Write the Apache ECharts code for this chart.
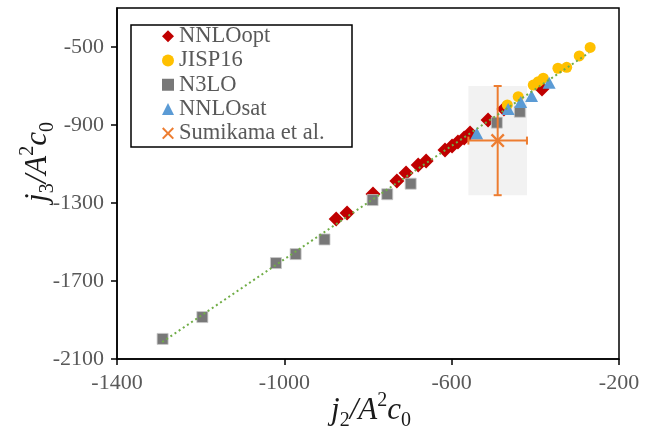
<!DOCTYPE html>
<html><head><meta charset="utf-8">
<script src="https://cdn.jsdelivr.net/npm/echarts@6/dist/echarts.min.js"></script>
<style>html,body{margin:0;padding:0;background:#fff}#c{width:654px;height:429px}</style>
</head><body><div id="c"></div>
<script>
// ---- data ----
const nnloOptX = [-876, -850, -788, -731, -709, -680, -661, -616, -599, -585, -570, -556, -513, -475, -384];
const nnloOptY = [-1382, -1351, -1254, -1187, -1146, -1105, -1085, -1028, -1008, -987, -967, -941, -874, -818, -715];
const jispX = [-467, -441, -405, -393, -381, -346, -325, -295, -269];
const jispY = [-797, -755, -695, -678, -660, -609, -604, -546, -502];
const n3loX = [-1291, -1196, -1020, -973, -904, -789, -754, -698, -492, -437];
const n3loY = [-1997, -1885, -1608, -1562, -1487, -1285, -1255, -1201, -888, -832];
const satX = [-540, -465, -435, -409, -367];
const satY = [-943, -818, -782, -751, -683];
const sumikamaX = [-490];
const sumikamaY = [-980];
const sumikamaXErr = [70];
const sumikamaYErr = [280];
const trendX = [-1292, -272];
const trendY = [-2013, -530];
const xTicks = [-1400, -1000, -600, -200];
const yTicks = [-2100, -1700, -1300, -900, -500];
const seriesNames = ['NNLOopt', 'JISP16', 'N3LO', 'NNLOsat', 'Sumikama et al.'];

const zip = (a, b) => a.map((v, i) => [v, b[i]]);
const errData = sumikamaX.map((v, i) => [v, sumikamaY[i], sumikamaXErr[i], sumikamaYErr[i]]);
const xPath = 'path://M0,1.2L1.2,0L5,3.8L8.8,0L10,1.2L6.2,5L10,8.8L8.8,10L5,6.2L1.2,10L0,8.8L3.8,5Z';
const FONT = 'Liberation Serif';
const orange = '#ED7D31';
const TC = '#1a1a1a';

const chart = echarts.init(document.getElementById('c'));
const rich = {
  i: {fontFamily: FONT, fontStyle: 'italic', fontSize: 31, lineHeight: 40, fill: TC, color: TC},
  sub: {fontFamily: FONT, fontSize: 20, lineHeight: 20, verticalAlign: 'bottom', fill: TC, color: TC},
  sup: {fontFamily: FONT, fontSize: 20, lineHeight: 20, verticalAlign: 'top', fill: TC, color: TC}
};
const fmt = v => String(v);
chart.setOption({
  animation: false,
  grid: {left: 117, right: 35, top: 8, bottom: 70, show: true, borderColor: '#000', borderWidth: 1.5, backgroundColor: 'transparent'},
  xAxis: {
    type: 'value', min: -1400, max: -200, interval: 400,
    axisLine: {show: true, onZero: false, lineStyle: {color: '#000', width: 1.5}},
    axisTick: {show: true, inside: false, length: 6, lineStyle: {color: '#000', width: 1.5}, customValues: xTicks},
    axisLabel: {fontFamily: FONT, fontSize: 22, color: '#595959', margin: 13, customValues: xTicks, formatter: fmt},
    splitLine: {show: false}
  },
  yAxis: {
    type: 'value', min: -2100, max: -300, interval: 400,
    axisLine: {show: true, onZero: false, lineStyle: {color: '#000', width: 1.5}},
    axisTick: {show: true, inside: false, length: 6, lineStyle: {color: '#000', width: 1.5}, customValues: yTicks},
    axisLabel: {fontFamily: FONT, fontSize: 22, color: '#595959', margin: 13, customValues: yTicks, formatter: fmt},
    splitLine: {show: false}
  },
  legend: {
    orient: 'vertical', left: 162, top: 24, padding: 0, itemGap: 0, itemWidth: 12, itemHeight: 12,
    textStyle: {fontFamily: FONT, fontSize: 22.5, color: '#595959', lineHeight: 24.3},
    data: [
      {name: seriesNames[0], icon: 'diamond'},
      {name: seriesNames[1], icon: 'circle'},
      {name: seriesNames[2], icon: 'rect', itemStyle: {borderWidth: 0}},
      {name: seriesNames[3], icon: 'triangle'},
      {name: seriesNames[4], icon: xPath}
    ]
  },
  graphic: [
    {type: 'rect', shape: {x: 131, y: 25, width: 221, height: 122}, style: {fill: 'none', stroke: '#000', lineWidth: 1.5}, z: 100},
    {type: 'text', x: 38, y: 162, rotation: Math.PI / 2,
      style: {text: '{i|j}{sub|3}{i|/A}{sup|2}{i|c}{sub|0}', rich: rich, align: 'center', verticalAlign: 'middle'}},
    {type: 'text', x: 371, y: 411,
      style: {text: '{i|j}{sub|2}{i|/A}{sup|2}{i|c}{sub|0}', rich: rich, align: 'center', verticalAlign: 'middle'}}
  ],
  series: [
    {type: 'custom', name: 'shade', z: 1, silent: true, data: errData,
      renderItem: function (params, api) {
        const x = api.value(0), y = api.value(1), ex = api.value(2), ey = api.value(3);
        const tl = api.coord([x - ex, y + ey]), br = api.coord([x + ex, y - ey]);
        return {type: 'rect', shape: {x: tl[0], y: tl[1], width: br[0] - tl[0], height: br[1] - tl[1]}, style: {fill: '#F2F2F2'}};
      }},
    {type: 'scatter', name: seriesNames[0], z: 2, symbol: 'diamond', symbolSize: 15, itemStyle: {color: '#C00000', opacity: 1}, data: zip(nnloOptX, nnloOptY)},
    {type: 'scatter', name: seriesNames[1], z: 2, symbol: 'circle', symbolSize: 11, itemStyle: {color: '#FFC000', opacity: 1}, data: zip(jispX, jispY)},
    {type: 'scatter', name: seriesNames[2], z: 2, symbol: 'rect', symbolSize: 11, itemStyle: {color: '#787878', opacity: 1, borderColor: '#C8C8C8', borderWidth: 0.8}, data: zip(n3loX, n3loY)},
    {type: 'scatter', name: seriesNames[3], z: 2, symbol: 'triangle', symbolSize: [13, 12], itemStyle: {color: '#5B9BD5', opacity: 1}, data: zip(satX, satY)},
    {type: 'custom', name: 'errbars', z: 3, silent: true, data: errData,
      renderItem: function (params, api) {
        const x = api.value(0), y = api.value(1), ex = api.value(2), ey = api.value(3);
        const t = api.coord([x, y + ey]), b = api.coord([x, y - ey]);
        const l = api.coord([x - ex, y]), r = api.coord([x + ex, y]);
        const cap = 4, st = {stroke: orange, lineWidth: 2};
        const ln = (x1, y1, x2, y2) => ({type: 'line', shape: {x1, y1, x2, y2}, style: st});
        return {type: 'group', children: [
          ln(t[0], t[1], b[0], b[1]), ln(t[0] - cap, t[1], t[0] + cap, t[1]), ln(b[0] - cap, b[1], b[0] + cap, b[1]),
          ln(l[0], l[1], r[0], r[1]), ln(l[0], l[1] - cap, l[0], l[1] + cap), ln(r[0], r[1] - cap, r[0], r[1] + cap)
        ]};
      }},
    {type: 'scatter', name: seriesNames[4], z: 4, symbol: xPath, symbolSize: 14, itemStyle: {color: orange, opacity: 1}, data: zip(sumikamaX, sumikamaY)},
    {type: 'line', name: 'trend', z: 5, silent: true, symbol: 'none', data: zip(trendX, trendY),
      lineStyle: {color: '#70AD47', width: 2, type: [2, 3]}}
  ]
});
</script></body></html>
